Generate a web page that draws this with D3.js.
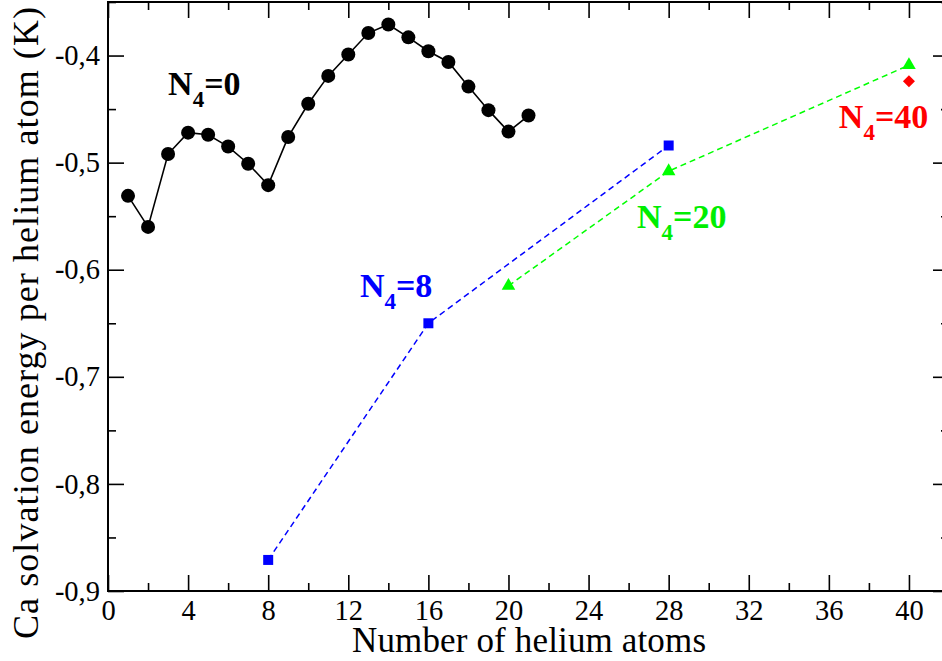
<!DOCTYPE html>
<html>
<head>
<meta charset="utf-8">
<script src="https://cdn.jsdelivr.net/npm/d3@7/dist/d3.min.js"></script>
<style>
  html, body { margin: 0; padding: 0; background: #fff; }
  svg { display: block; }
</style>
</head>
<body>
<svg id="chart" width="942" height="661" font-family="Liberation Serif"></svg>
<script>
// ---- data ----
const n0X = [1,2,3,4,5,6,7,8,9,10,11,12,13,14,15,16,17,18,19,20,21];
const n0Y = [-0.531,-0.560,-0.492,-0.472,-0.474,-0.485,-0.501,-0.521,-0.476,-0.445,-0.419,-0.399,-0.379,-0.371,-0.383,-0.396,-0.406,-0.429,-0.451,-0.471,-0.456];
const n8X = [8,16,28];
const n8Y = [-0.871,-0.650,-0.484];
const n20X = [20,28,40];
const n20Y = [-0.615,-0.508,-0.409];
const n40X = [40];
const n40Y = [-0.424];
const xMajorTicks = [0,4,8,12,16,20,24,28,32,36,40];
const xMinorTicks = [2,6,10,14,18,22,26,30,34,38,42];
const yMajorTicks = [-0.9,-0.8,-0.7,-0.6,-0.5,-0.4];
const yMinorTicks = [-0.85,-0.75,-0.65,-0.55,-0.45,-0.35];
const seriesLabels = [
  {n: "0",  color: "#000000", x: 3.0,  y: -0.4368},
  {n: "8",  color: "#0000ff", x: 12.58, y: -0.6252},
  {n: "20", color: "#00ee00", x: 26.42, y: -0.5610},
  {n: "40", color: "#ff0000", x: 36.5, y: -0.4677}
];
const xTitle = "Number of helium atoms";
const yTitle = "Ca solvation energy per helium atom (K)";

// ---- scales ----
const FONT = "Liberation Serif";
const svg = d3.select("#chart");
const x = d3.scaleLinear().domain([0, 42]).range([108, 949]);
const y = d3.scaleLinear().domain([-0.9, -0.35]).range([591, 2]);
const fmt = d => (d < 0 ? "-" : "") + Math.abs(d).toFixed(1).replace(".", ",");

// ---- axes ----
function styleAxis(g) {
  g.attr("font-family", FONT).attr("font-size", 28.5);
  g.select(".domain").remove();
  g.selectAll(".tick line").attr("stroke", "#000").attr("stroke-width", 1.6);
  g.selectAll(".tick text").attr("fill", "#000");
}
svg.append("g").attr("transform", "translate(0,591)")
  .call(d3.axisBottom(x).tickValues(xMajorTicks).tickSize(-16).tickPadding(9).tickFormat(d3.format("d")))
  .call(styleAxis);
svg.append("g").attr("transform", "translate(0,591)")
  .call(d3.axisBottom(x).tickValues(xMinorTicks).tickSize(-8).tickFormat(""))
  .call(styleAxis);
svg.append("g").attr("transform", "translate(0,2)")
  .call(d3.axisTop(x).tickValues(xMajorTicks).tickSize(-16).tickFormat(""))
  .call(styleAxis);
svg.append("g").attr("transform", "translate(0,2)")
  .call(d3.axisTop(x).tickValues(xMinorTicks).tickSize(-8).tickFormat(""))
  .call(styleAxis);
svg.append("g").attr("transform", "translate(108,0)")
  .call(d3.axisLeft(y).tickValues(yMajorTicks).tickSize(-16).tickPadding(8).tickFormat(fmt))
  .call(styleAxis);
svg.append("g").attr("transform", "translate(108,0)")
  .call(d3.axisLeft(y).tickValues(yMinorTicks).tickSize(-8).tickFormat(""))
  .call(styleAxis);
svg.append("g").attr("transform", "translate(949,0)")
  .call(d3.axisRight(y).tickValues(yMajorTicks).tickSize(-16).tickFormat(""))
  .call(styleAxis);
svg.append("g").attr("transform", "translate(949,0)")
  .call(d3.axisRight(y).tickValues(yMinorTicks).tickSize(-8).tickFormat(""))
  .call(styleAxis);

// frame
svg.append("rect")
  .attr("x", x(0)).attr("y", y(-0.35))
  .attr("width", x(42) - x(0)).attr("height", y(-0.9) - y(-0.35))
  .attr("fill", "none").attr("stroke", "#000").attr("stroke-width", 2);

// ---- titles ----
svg.append("text").attr("x", 529).attr("y", 652)
  .attr("text-anchor", "middle").attr("font-size", 35).attr("font-family", FONT)
  .attr("textLength", 354).attr("lengthAdjust", "spacing")
  .text(xTitle);
svg.append("text").attr("transform", "translate(38,323) rotate(-90)")
  .attr("text-anchor", "middle").attr("font-size", 36).attr("font-family", FONT)
  .attr("textLength", 632).attr("lengthAdjust", "spacing")
  .text(yTitle);

// ---- series ----
const line = d3.line().x(d => x(d[0])).y(d => y(d[1]));
const n0 = n0X.map((v, i) => [v, n0Y[i]]);
const n8 = n8X.map((v, i) => [v, n8Y[i]]);
const n20 = n20X.map((v, i) => [v, n20Y[i]]);
const n40 = n40X.map((v, i) => [v, n40Y[i]]);

svg.append("path").datum(n0).attr("d", line)
  .attr("fill", "none").attr("stroke", "#000").attr("stroke-width", 1.6);
svg.append("path").datum(n8).attr("d", line)
  .attr("fill", "none").attr("stroke", "#0000ff").attr("stroke-width", 1.5)
  .attr("stroke-dasharray", "6,4");
svg.append("path").datum(n20).attr("d", line)
  .attr("fill", "none").attr("stroke", "#00ff00").attr("stroke-width", 1.5)
  .attr("stroke-dasharray", "6,4");

svg.append("g").selectAll("circle").data(n0).join("circle")
  .attr("cx", d => x(d[0])).attr("cy", d => y(d[1])).attr("r", 7).attr("fill", "#000");
svg.append("g").selectAll("path").data(n8).join("path")
  .attr("transform", d => `translate(${x(d[0])},${y(d[1])})`)
  .attr("d", d3.symbol(d3.symbolSquare, 100)).attr("fill", "#0000ff");
svg.append("g").selectAll("path").data(n20).join("path")
  .attr("transform", d => `translate(${x(d[0])},${y(d[1])})`)
  .attr("d", d3.symbol(d3.symbolTriangle, 80)).attr("fill", "#00ff00");
svg.append("g").selectAll("path").data(n40).join("path")
  .attr("transform", d => `translate(${x(d[0])},${y(d[1])}) rotate(45)`)
  .attr("d", d3.symbol(d3.symbolSquare, 72)).attr("fill", "#ff0000");

// ---- series labels ----
seriesLabels.forEach(l => {
  const t = svg.append("text").attr("x", x(l.x)).attr("y", y(l.y))
    .attr("font-size", 34).attr("font-weight", "bold").attr("fill", l.color)
    .attr("font-family", FONT);
  t.append("tspan").text("N");
  t.append("tspan").attr("font-size", 23).attr("dy", 12).text("4");
  t.append("tspan").attr("dy", -12).text("=" + l.n);
});
</script>
</body>
</html>
